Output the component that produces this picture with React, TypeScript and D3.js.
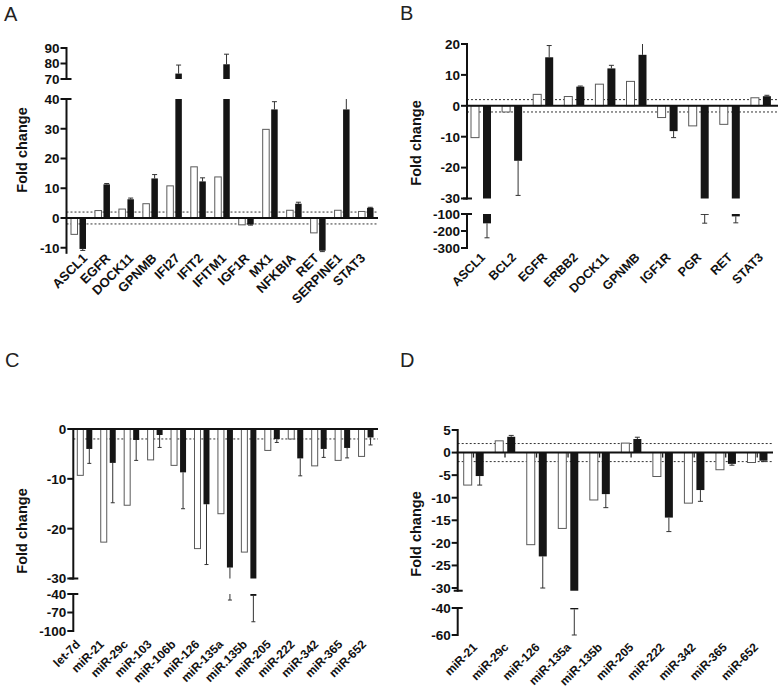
import React from "react";
import * as d3 from "d3";

// ---------- DATA ----------
const catsA = ["ASCL1", "EGFR", "DOCK11", "GPNMB", "IFI27", "IFIT2", "IFITM1", "IGF1R", "MX1", "NFKBIA", "RET", "SERPINE1", "STAT3"];
const openA = [-5.5, 2.5, 3.0, 4.8, 10.8, 17.2, 13.8, -2.3, 29.8, 2.6, -5.0, 2.6, 2.2];
const blackA = [-10.4, 11.3, 6.3, 13.3, 73.5, 12.3, 79.5, -2.2, 36.5, 4.8, -11.0, 36.5, 3.4];
const errA = [0.5, 0.3, 0.4, 1.3, 5.5, 1.2, 6.5, 0.2, 2.6, 0.5, 0.3, 3.6, 0.2];
const ticksA_upper = [70, 80, 90];
const ticksA_lower = [-10, 0, 10, 20, 30, 40];

const catsB = ["ASCL1", "BCL2", "EGFR", "ERBB2", "DOCK11", "GPNMB", "IGF1R", "PGR", "RET", "STAT3"];
const openB = [-10.3, -2.0, 3.7, 3.0, 7.0, 7.9, -3.8, -6.5, -6.0, 2.6];
const blackB = [-155, -17.8, 15.7, 6.2, 12.1, 16.5, -8.2, -104, -114, 3.1];
const errB = [85, 11.2, 3.8, 0.2, 1.0, 3.8, 2.1, 50, 38, 0.3];
const ticksB_upper = [-30, -20, -10, 0, 10, 20];
const ticksB_lower = [-300, -200, -100];

const catsC = ["let-7d", "miR-21", "miR-29c", "miR-103", "miR-106b", "miR-126", "miR-135a", "miR.135b", "miR-205", "miR-222", "miR-342", "miR-365", "miR-652"];
const openC = [-9.3, -22.7, -15.3, -6.2, -7.3, -24.0, -17.0, -24.7, -4.3, -2.0, -7.4, -6.3, -5.5];
const blackC = [-4.0, -6.8, -2.2, -1.2, -8.7, -15.1, -27.8, -43, -2.0, -5.9, -4.0, -3.8, -1.7];
const errC = [2.9, 8.0, 4.1, 2.5, 7.3, 12.1, 22, 42, 0.7, 3.5, 1.7, 2.0, 1.5];
const ticksC_upper = [-30, -20, -10, 0];
const ticksC_lower = [-100, -70, -40];

const catsD = ["miR-21", "miR-29c", "miR-126", "miR-135a", "miR-135b", "miR-205", "miR-222", "miR-342", "miR-365", "miR-652"];
const openD = [-7.2, 2.6, -20.4, -16.8, -10.5, 2.1, -5.3, -11.2, -3.8, -2.2];
const blackD = [-5.2, 3.5, -23.0, -41, -9.2, 3.0, -14.4, -8.3, -2.5, -1.8];
const errD = [2.0, 0.3, 7.0, 19, 3.0, 0.4, 3.1, 2.5, 0.3, 0.2];
const ticksD_upper = [-30, -25, -20, -15, -10, -5, 0, 5];
const ticksD_lower = [-60, -40];

// ---------- LAYOUT ----------
type Seg = { domain: [number, number]; range: [number, number]; ticks: number[] };
interface PanelCfg {
  letter: string; letterX: number; letterY: number;
  cats: string[]; open: number[]; black: number[]; err: number[];
  axisX: number; xEnd: number; segs: Seg[];
  openOff: [number, number]; blackOff: [number, number];
  dotted: number[]; xTicks: boolean;
  labelRange: [number, number]; labelY: number; labelSize: number;
  ylabX: number; ylabY: number; capW: number;
}

const FONT = "'Liberation Sans', Arial, Helvetica, sans-serif";

const panels: PanelCfg[] = [
  {
    letter: "A", letterX: 4, letterY: 21,
    cats: catsA, open: openA, black: blackA, err: errA,
    axisX: 66.5, xEnd: 378,
    segs: [
      { domain: [70, 90], range: [79, 48], ticks: ticksA_upper },
      { domain: [-11.7, 40], range: [218 + 11.7 * 2.975, 99], ticks: ticksA_lower },
    ],
    openOff: [4.5, 11], blackOff: [13, 19.5],
    dotted: [2, -2], xTicks: false,
    labelRange: [88, 366], labelY: 259, labelSize: 13,
    ylabX: 27, ylabY: 150, capW: 5,
  },
  {
    letter: "B", letterX: 400, letterY: 20,
    cats: catsB, open: openB, black: blackB, err: errB,
    axisX: 467, xEnd: 778,
    segs: [
      { domain: [-30, 20], range: [198.5, 44], ticks: ticksB_upper },
      { domain: [-300, -100], range: [248, 214], ticks: ticksB_lower },
    ],
    openOff: [4, 12], blackOff: [16, 24],
    dotted: [2, -2], xTicks: false,
    labelRange: [486, 764], labelY: 258, labelSize: 12.5,
    ylabX: 421, ylabY: 143, capW: 5,
  },
  {
    letter: "C", letterX: 5, letterY: 367,
    cats: catsC, open: openC, black: blackC, err: errC,
    axisX: 73.3, xEnd: 378,
    segs: [
      { domain: [-30, 0], range: [578.5, 429], ticks: ticksC_upper },
      { domain: [-100, -40], range: [631, 594], ticks: ticksC_lower },
    ],
    openOff: [4, 10], blackOff: [13, 19],
    dotted: [-2], xTicks: false,
    labelRange: [81, 367], labelY: 645, labelSize: 12,
    ylabX: 27, ylabY: 531, capW: 4,
  },
  {
    letter: "D", letterX: 400, letterY: 367,
    cats: catsD, open: openD, black: blackD, err: errD,
    axisX: 457.7, xEnd: 773,
    segs: [
      { domain: [-30.6, 5], range: [452.6 + 30.6 * 4.514, 430], ticks: ticksD_upper },
      { domain: [-60, -40], range: [635, 608], ticks: ticksD_lower },
    ],
    openOff: [6, 14], blackOff: [18, 26],
    dotted: [2, -2], xTicks: true,
    labelRange: [478, 759], labelY: 648, labelSize: 12,
    ylabX: 421, ylabY: 534, capW: 5,
  },
];

function Panel({ cfg }: { cfg: PanelCfg }) {
  const segs = cfg.segs.map((s) => ({ ...s, scale: d3.scaleLinear().domain(s.domain).range(s.range) }));
  const segOf = (v: number) => segs.find((s) => v >= s.domain[0] - 1e-9 && v <= s.domain[1] + 1e-9);
  const zeroSeg = segOf(0)!;
  const y0 = zeroSeg.scale(0);
  const x = d3.scaleBand<string>().domain(cfg.cats).range([cfg.axisX, cfg.xEnd]).padding(0);
  const lx = d3.scalePoint<string>().domain(cfg.cats).range(cfg.labelRange);

  const pieces = (a: number, b: number) => {
    const lo = Math.min(a, b), hi = Math.max(a, b);
    const out: { y1: number; y2: number }[] = [];
    segs.forEach((s) => {
      const l = Math.max(lo, s.domain[0]);
      const h = Math.min(hi, s.domain[1]);
      if (h > l) out.push({ y1: s.scale(h), y2: s.scale(l) });
    });
    return out;
  };

  const sorted = [...segs].sort((a, b) => a.domain[0] - b.domain[0]);
  const elems: React.ReactNode[] = [];

  cfg.dotted.forEach((d, i) => {
    const s = segOf(d)!;
    elems.push(
      <line key={`dot${i}`} x1={cfg.axisX} x2={cfg.xEnd} y1={s.scale(d)} y2={s.scale(d)}
        stroke="#333" strokeWidth={1} strokeDasharray="2,2" />
    );
  });

  cfg.cats.forEach((c, i) => {
    const bx = x(c)!;
    pieces(0, cfg.open[i]).forEach((p, k) => {
      elems.push(
        <rect key={`o${i}-${k}`} x={bx + cfg.openOff[0]} y={p.y1} width={cfg.openOff[1] - cfg.openOff[0]}
          height={Math.max(p.y2 - p.y1, 0.5)} fill="#fff" stroke="#5a5a5a" strokeWidth={1} />
      );
    });
    const bw = cfg.blackOff[1] - cfg.blackOff[0];
    const cx = bx + (cfg.blackOff[0] + cfg.blackOff[1]) / 2;
    const v = cfg.black[i];
    const end = v + Math.sign(v) * cfg.err[i];
    pieces(v, end).forEach((p, k) => {
      elems.push(<line key={`el${i}-${k}`} x1={cx} x2={cx} y1={p.y1} y2={p.y2} stroke="#333" strokeWidth={1} />);
    });
    const es = segOf(end);
    if (es) {
      const ye = es.scale(end);
      elems.push(<line key={`ec${i}`} x1={cx - cfg.capW / 2} x2={cx + cfg.capW / 2} y1={ye} y2={ye} stroke="#333" strokeWidth={1} />);
    }
    pieces(0, v).forEach((p, k) => {
      elems.push(
        <rect key={`b${i}-${k}`} x={bx + cfg.blackOff[0]} y={p.y1} width={bw}
          height={Math.max(p.y2 - p.y1, 0.8)} fill="#151515" />
      );
    });
  });

  elems.push(<line key="xaxis" x1={cfg.axisX - 1} x2={cfg.xEnd} y1={y0} y2={y0} stroke="#111" strokeWidth={2} />);
  if (cfg.xTicks) {
    cfg.cats.forEach((c, i) => {
      const cx = x(c)! + x.bandwidth() / 2;
      elems.push(<line key={`xt${i}`} x1={cx} x2={cx} y1={y0} y2={y0 + 5} stroke="#222" strokeWidth={1.3} />);
    });
  }

  sorted.forEach((s, si) => {
    const yTop = s.scale(s.domain[1]);
    const yBot = s.scale(s.domain[0]);
    elems.push(<line key={`ya${si}`} x1={cfg.axisX} x2={cfg.axisX} y1={yTop - 1} y2={yBot + 1} stroke="#111" strokeWidth={2} />);
    s.ticks.forEach((t, ti) => {
      const yy = s.scale(t);
      elems.push(<line key={`yt${si}-${ti}`} x1={cfg.axisX - 6} x2={cfg.axisX} y1={yy} y2={yy} stroke="#111" strokeWidth={2} />);
      elems.push(
        <text key={`yl${si}-${ti}`} x={cfg.axisX - 7} y={yy} dy="0.36em" textAnchor="end"
          fontFamily={FONT} fontWeight="bold" fontSize={13.5} fill="#111">{t}</text>
      );
    });
    if (si < sorted.length - 1) {
      elems.push(<line key={`bk1${si}`} x1={cfg.axisX - 4} x2={cfg.axisX + 5} y1={yTop} y2={yTop} stroke="#111" strokeWidth={2} />);
    }
    if (si > 0) {
      elems.push(<line key={`bk2${si}`} x1={cfg.axisX - 4} x2={cfg.axisX + 5} y1={yBot} y2={yBot} stroke="#111" strokeWidth={2} />);
    }
  });

  cfg.cats.forEach((c, i) => {
    elems.push(
      <text key={`xl${i}`} transform={`translate(${lx(c)},${cfg.labelY}) rotate(-45)`} textAnchor="end"
        fontFamily={FONT} fontWeight="bold" fontSize={cfg.labelSize} fill="#111">{c}</text>
    );
  });

  elems.push(
    <text key="ylab" transform={`translate(${cfg.ylabX},${cfg.ylabY}) rotate(-90)`} textAnchor="middle"
      fontFamily={FONT} fontWeight="bold" fontSize={14.5} fill="#111">Fold change</text>
  );

  elems.push(
    <text key="letter" x={cfg.letterX} y={cfg.letterY} fontFamily={FONT} fontSize={20} fill="#222">{cfg.letter}</text>
  );

  return <g>{elems}</g>;
}

export default function App() {
  return (
    <svg width={782} height={691} viewBox="0 0 782 691"
      style={{ position: "absolute", left: 0, top: 0, background: "#fff" }}>
      <rect width={782} height={691} fill="#fff" />
      {panels.map((p) => <Panel key={p.letter} cfg={p} />)}
    </svg>
  );
}
